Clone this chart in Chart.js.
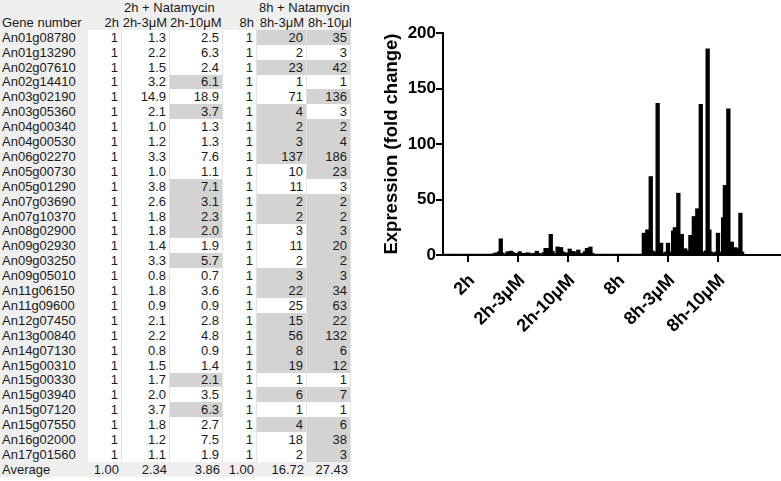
<!DOCTYPE html>
<html>
<head>
<meta charset="utf-8">
<script src="https://cdn.jsdelivr.net/npm/chart.js@4/dist/chart.umd.min.js"></script>
<style>
  html, body { margin: 0; padding: 0; background: #fff; }
  body { width: 781px; height: 481px; overflow: hidden; position: relative; }
  #tbl { position: absolute; left: 0; top: 0; width: 351px; height: 481px; overflow: hidden;
         font: 13px Arial, "Liberation Sans", sans-serif; color: #1a1a1a; }
  .cell { position: absolute; box-sizing: border-box; white-space: nowrap; overflow: hidden; }
  #chartBox { position: absolute; left: 377px; top: 0; width: 423px; height: 340px; }
</style>
</head>
<body>
<div id="tbl"></div>
<div id="chartBox"><canvas id="chart"></canvas></div>
<script>
const genes = ['An01g08780', 'An01g13290', 'An02g07610', 'An02g14410', 'An03g02190', 'An03g05360',
  'An04g00340', 'An04g00530', 'An06g02270', 'An05g00730', 'An05g01290', 'An07g03690', 'An07g10370',
  'An08g02900', 'An09g02930', 'An09g03250', 'An09g05010', 'An11g06150', 'An11g09600', 'An12g07450',
  'An13g00840', 'An14g07130', 'An15g00310', 'An15g00330', 'An15g03940', 'An15g07120', 'An15g07550',
  'An16g02000', 'An17g01560'];
const conditions = ['2h', '2h-3μM', '2h-10μM', '8h', '8h-3μM', '8h-10μM'];
const v2h = [1, 1, 1, 1, 1, 1, 1, 1, 1, 1, 1, 1, 1, 1, 1, 1, 1, 1, 1, 1, 1, 1, 1, 1, 1, 1, 1, 1, 1];
const v2h3 = [1.3, 2.2, 1.5, 3.2, 14.9, 2.1, 1.0, 1.2, 3.3, 1.0, 3.8, 2.6, 1.8, 1.8, 1.4, 3.3, 0.8, 1.8, 0.9, 2.1, 2.2, 0.8, 1.5, 1.7, 2.0, 3.7, 1.8, 1.2, 1.1];
const v2h10 = [2.5, 6.3, 2.4, 6.1, 18.9, 3.7, 1.3, 1.3, 7.6, 1.1, 7.1, 3.1, 2.3, 2.0, 1.9, 5.7, 0.7, 3.6, 0.9, 2.8, 4.8, 0.9, 1.4, 2.1, 3.5, 6.3, 2.7, 7.5, 1.9];
const v8h = [1, 1, 1, 1, 1, 1, 1, 1, 1, 1, 1, 1, 1, 1, 1, 1, 1, 1, 1, 1, 1, 1, 1, 1, 1, 1, 1, 1, 1];
const v8h3 = [20, 2, 23, 1, 71, 4, 2, 3, 137, 10, 11, 2, 2, 3, 11, 2, 3, 22, 25, 15, 56, 8, 19, 1, 6, 1, 4, 18, 2];
const v8h10 = [35, 3, 42, 1, 136, 3, 2, 4, 186, 23, 3, 2, 2, 3, 20, 2, 3, 34, 63, 22, 132, 6, 12, 1, 7, 1, 6, 38, 3];
const averages = ['1.00', '2.34', '3.86', '1.00', '16.72', '27.43'];
// rows shaded grey in the table, by gene index
const sig2h10 = [3, 5, 10, 11, 12, 13, 15, 23, 25];
const sig8h3 = [0, 2, 5, 6, 7, 8, 11, 12, 16, 17, 19, 20, 21, 22, 24, 26];
const sig8h10 = [0, 2, 4, 6, 7, 8, 9, 11, 12, 13, 14, 15, 16, 17, 18, 19, 20, 21, 22, 24, 26, 27, 28];

const FONT = 'Arial, "Liberation Sans", sans-serif';

// ---- table ----
const tbl = document.getElementById('tbl');
const colX = [0, 88, 122, 170, 223, 257, 307, 351];
const ROW_H = 14.9;
const LIGHT = '#efefef', DARK = '#d3d3d3';
function cell(r, c, text, opts) {
  opts = opts || {};
  const d = document.createElement('div');
  d.className = 'cell';
  const x0 = colX[c], x1 = colX[c + (opts.span || 1)];
  const y0 = Math.round(r * ROW_H), y1 = Math.round((r + 1) * ROW_H);
  d.style.left = x0 + 'px';
  d.style.width = (x1 - x0) + 'px';
  d.style.top = y0 + 'px';
  d.style.height = (y1 - y0) + 'px';
  d.style.lineHeight = (y1 - y0) + 'px';
  d.style.background = opts.bg || '#fff';
  d.style.textAlign = opts.align || 'right';
  d.style.padding = opts.align === 'left' ? '0 0 0 ' + (opts.pl || 2) + 'px' : '0 3px 0 0';
  if (opts.line) d.style.borderRight = '1px solid #e2e2e2';
  d.textContent = text;
  tbl.appendChild(d);
}
cell(0, 0, '', { bg: LIGHT, span: 2 });
cell(0, 2, '2h + Natamycin', { bg: LIGHT, span: 3, align: 'left' });
cell(0, 5, '8h + Natamycin', { bg: LIGHT, span: 2, align: 'left' });
cell(1, 0, 'Gene number', { bg: LIGHT, align: 'left' });
conditions.forEach((c, i) => {
  if (i === 5) cell(1, i + 1, c, { bg: LIGHT, align: 'left', pl: 1 });
  else cell(1, i + 1, c, { bg: LIGHT });
});
const cols = [v2h, v2h3, v2h10, v8h, v8h3, v8h10];
const sig = [[], [], sig2h10, [], sig8h3, sig8h10];
genes.forEach((g, i) => {
  const r = i + 2;
  cell(r, 0, g, { bg: LIGHT, align: 'left' });
  cols.forEach((vals, k) => {
    let txt = String(vals[i]);
    if (k === 1 || k === 2) txt = vals[i].toFixed(1);
    cell(r, k + 1, txt, { bg: sig[k].includes(i) ? DARK : '#fff', line: true });
  });
});
cell(31, 0, 'Average', { bg: LIGHT, align: 'left' });
averages.forEach((a, k) => cell(31, k + 1, a, { bg: LIGHT }));

// ---- chart ----
const series = [v2h, v2h3, v2h10, v8h, v8h3, v8h10];
const datasets = genes.map((g, i) => ({
  label: g,
  data: series.map(s => s[i]).concat([null]),
  backgroundColor: '#000',
  borderWidth: 0,
  barPercentage: 2.5,
  categoryPercentage: 1
}));

new Chart(document.getElementById('chart'), {
  type: 'bar',
  data: { labels: conditions.concat(['']), datasets },
  options: {
    responsive: true,
    maintainAspectRatio: false,
    animation: false,
    layout: { padding: { top: 33, right: 7, bottom: 0, left: 0 } },
    plugins: { legend: { display: false }, tooltip: { enabled: false } },
    scales: {
      x: {
        grid: {
          offset: false, drawOnChartArea: false, tickLength: 7, lineWidth: 2,
          color: c => c.index === 6 ? 'rgba(0,0,0,0)' : '#000'
        },
        border: { color: '#000', width: 2 },
        ticks: {
          minRotation: 45, maxRotation: 45, autoSkip: false, padding: 8, labelOffset: 4, color: '#000',
          font: { family: FONT, size: 18, weight: 'bold' }
        },
        afterFit: s => { s.height = 85; }
      },
      y: {
        min: 0, max: 200,
        ticks: { stepSize: 50, padding: 0, color: '#000', font: { family: FONT, size: 17, weight: 'bold' } },
        grid: { drawOnChartArea: false, tickLength: 7, lineWidth: 2, color: '#000' },
        border: { color: '#000', width: 2 },
        title: {
          display: true, text: 'Expression (fold change)', color: '#000',
          font: { family: FONT, size: 18.5, weight: 'bold' }, padding: { top: 4, bottom: 0 }
        },
        afterFit: s => { s.width = 66; }
      }
    }
  }
});
</script>
</body>
</html>
